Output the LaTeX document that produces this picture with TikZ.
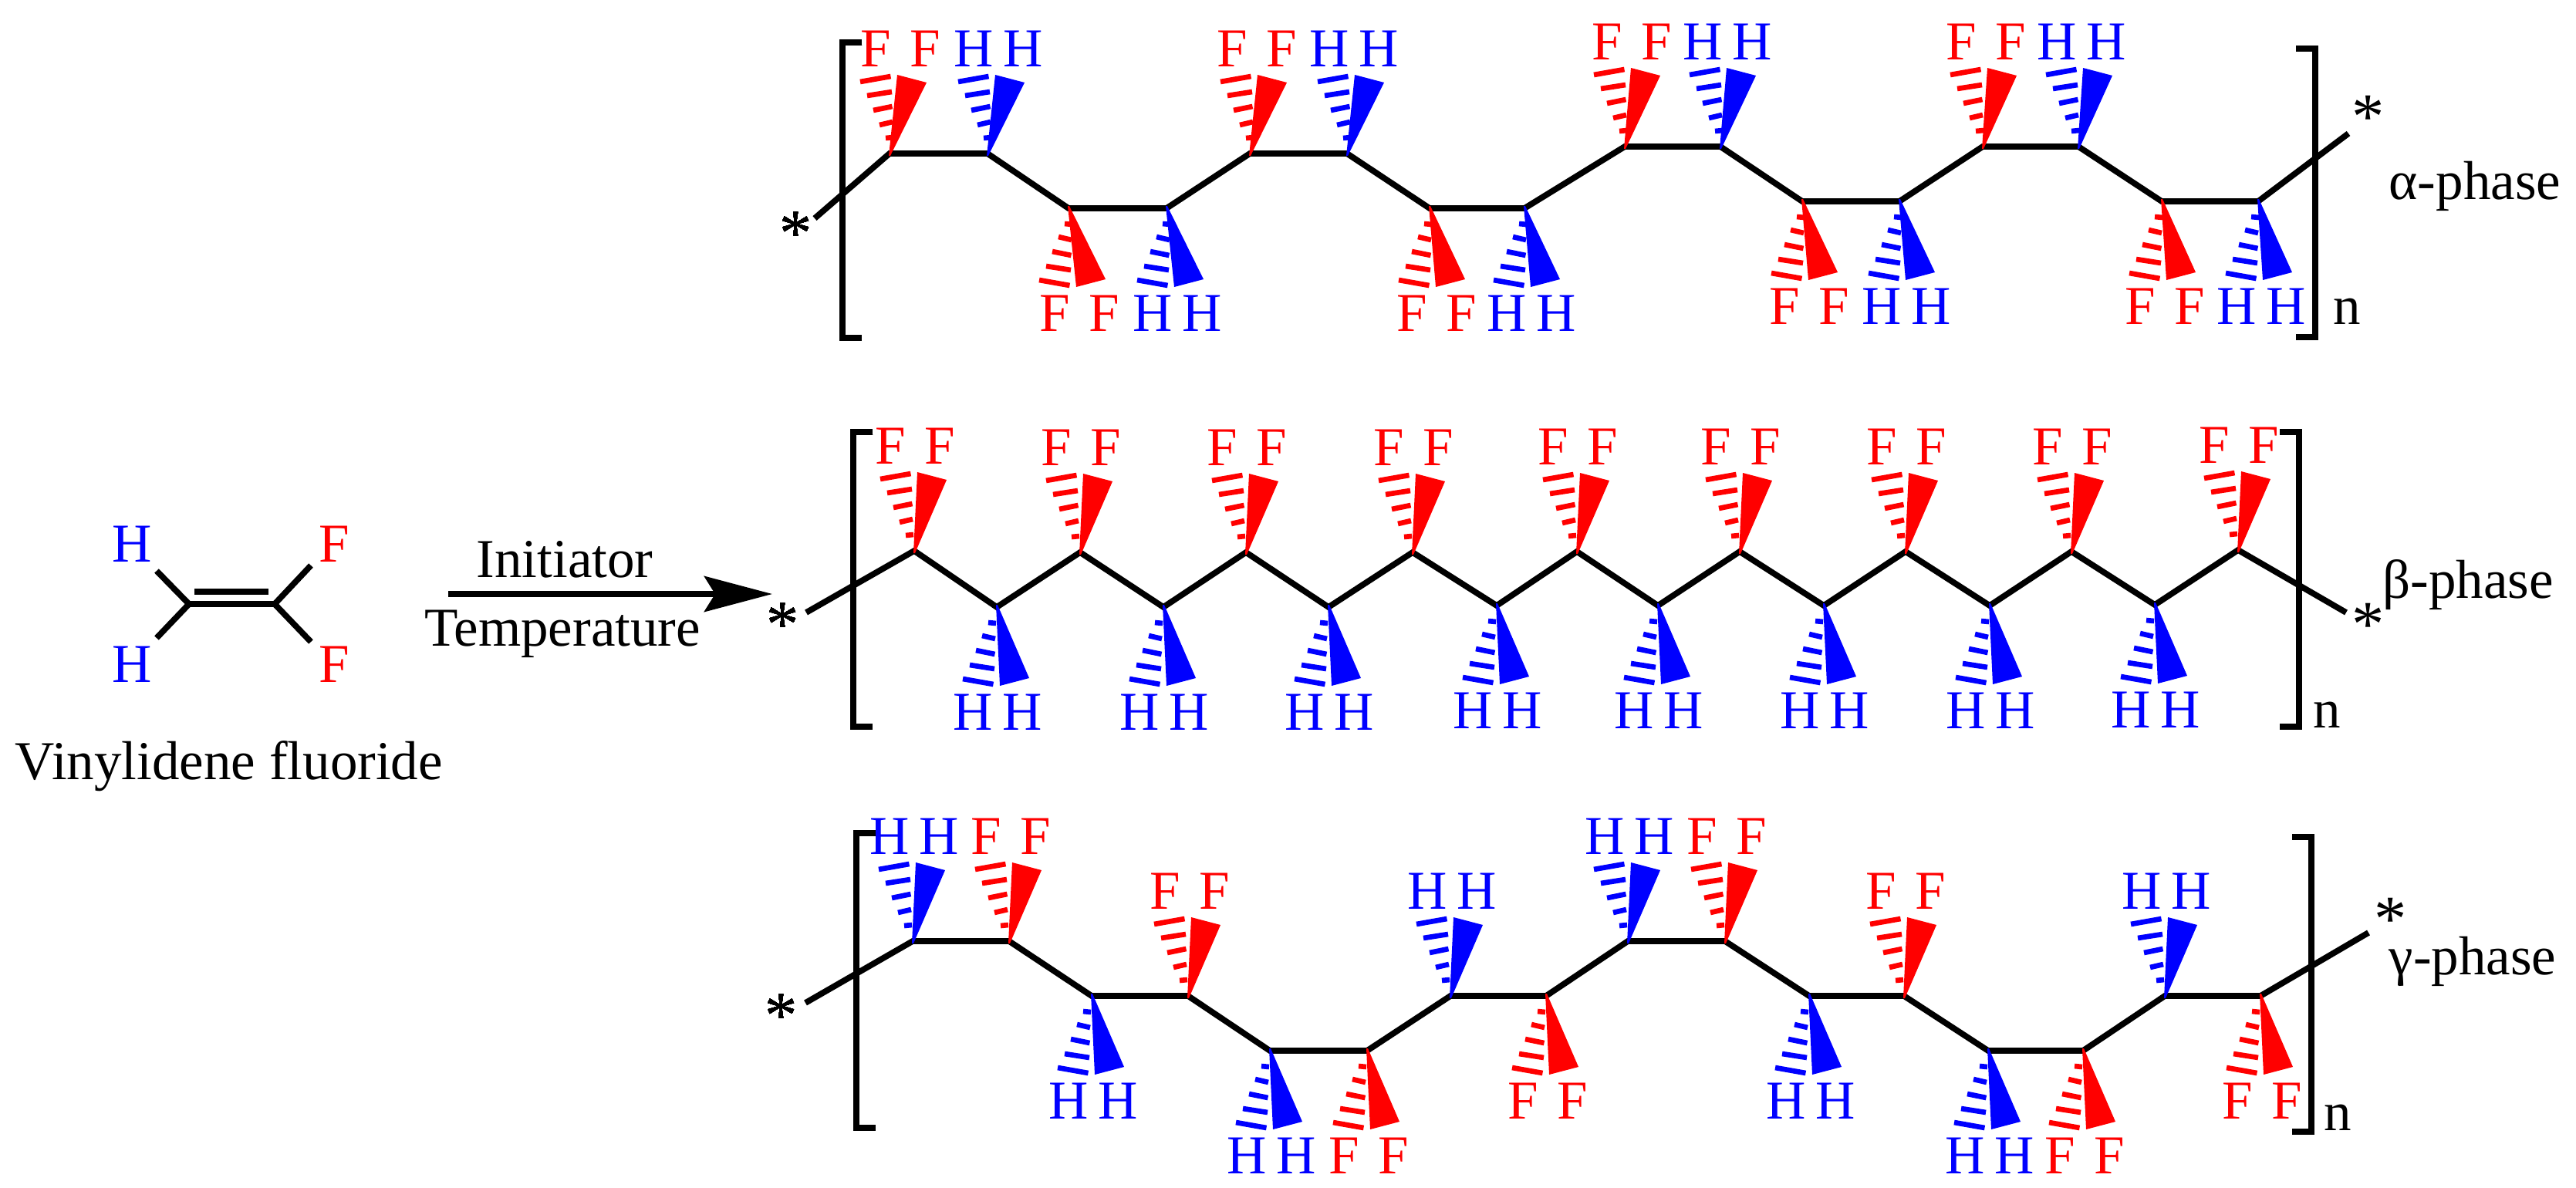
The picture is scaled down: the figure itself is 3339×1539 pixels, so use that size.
\documentclass[tikz,border=0pt]{standalone}
\usepackage{fontspec}
\setmainfont{Liberation Serif}
\usepackage{xcolor}
\usetikzlibrary{arrows.meta}

\colorlet{elemF}{red}
\colorlet{elemH}{blue}

\newcommand{\wedgepair}[6]{% atom name, direction, element, wedge shift, label shift
  \begin{scope}[shift={(#1)}, yscale=#2]
    \fill[elem#3] (-1,3) -- (4+#4,-102) -- (42+#4,-92) -- (1,3) -- cycle;
    \foreach \lx/\ly/\rx/\ry in {-11/-20/-1/-21, -19/-37/-2/-41, -27/-56/-2.5/-61, -35/-75/-3/-80, -44/-93/-4.5/-100}
      \draw[hashbar, elem#3] (\lx+#4,\ly) -- (\rx+#4,\ry);
    \node[atomlabel, text=elem#3] (#1l) at (-31+#5,-136) {#3};
    \node[atomlabel, text=elem#3] (#1r) at (33+#5,-136) {#3};
  \end{scope}
}

\newcommand{\polychain}[2]{% prefix, list of atoms
  \foreach \idx/\cx/\cy/\dirn/\elem/\wsh/\lsh in {#2}
    \coordinate (#1\idx) at (\cx,\cy);
  \draw[bond] (#1start) foreach \idx/\cx/\cy/\dirn/\elem/\wsh/\lsh in {#2} {-- (#1\idx)} -- (#1end);
  \foreach \idx/\cx/\cy/\dirn/\elem/\wsh/\lsh in {#2}
    \wedgepair{#1\idx}{\dirn}{\elem}{\wsh}{\lsh}{}
}

\newcommand{\squarebrackets}[6]{% left x, right x of the opening and closing bracket, top and bottom
  \draw[bond] (#1+25,#3) -- (#1,#3) -- (#1,#4) -- (#1+25,#4);
  \draw[bond] (#2-25,#5) -- (#2,#5) -- (#2,#6) -- (#2-25,#6);
}

\begin{document}
\begin{tikzpicture}[
    x=0.01cm, y=-0.01cm,
    bond/.style={line width=2.2pt, black},
    hashbar/.style={line width=1.9pt},
    atomlabel/.style={inner sep=0pt, font=\fontsize{20.2}{24}\selectfont},
    plain/.style={inner sep=0pt, anchor=base, font=\fontsize{20.2}{24}\selectfont},
    starlabel/.style={inner sep=0pt, anchor=base, font=\fontsize{24}{24}\selectfont},
    reaction/.style={line width=2.2pt, -{Stealth[length=0.88cm, width=0.46cm, inset=0.14cm]}}
]
\useasboundingbox (0,0) rectangle (3339,1539);

% monomer
\coordinate (vc1) at (245,783);
\coordinate (vc2) at (356,783);
\coordinate (vd1) at (252,767);
\coordinate (vd2) at (348,767);
\coordinate (vh1) at (203,740);
\coordinate (vh2) at (203,827);
\coordinate (vf1) at (403,733);
\coordinate (vf2) at (403,832);
\draw[bond] (vc1) -- (vc2);
\draw[bond] (vd1) -- (vd2);
\draw[bond] (vh1) -- (vc1) -- (vh2);
\draw[bond] (vf1) -- (vc2) -- (vf2);
\node[atomlabel, text=elemH] (hup) at (171,705) {H};
\node[atomlabel, text=elemH] (hdown) at (171,861) {H};
\node[atomlabel, text=elemF] (fup) at (433,705) {F};
\node[atomlabel, text=elemF] (fdown) at (433,861) {F};
\node[plain] (monomer) at (297,1010) {Vinylidene fluoride};

% reaction
\coordinate (rstart) at (581,770);
\coordinate (rend) at (1001,770);
\draw[reaction] (rstart) -- (rend);
\node[plain] (initiator) at (732,748) {Initiator};
\node[plain] (temperature) at (729,837) {Temperature};

% alpha
\coordinate (astart) at (1056,283);
\coordinate (aend) at (3044,173);
\polychain{a}{1/1153/199/1/F/6/13, 2/1280/199/1/H/6/13, 3/1385/270/-1/F/6/13, 4/1512/270/-1/H/6/13,
  5/1620/199/1/F/6/8, 6/1746/199/1/H/6/8, 7/1853/270/-1/F/4/8, 8/1976/270/-1/H/4/8,
  9/2106/190/1/F/4/8, 10/2230/190/1/H/4/8, 11/2336/261/-1/F/4/8, 12/2462/261/-1/H/4/8,
  13/2570/190/1/F/2/3, 14/2694/190/1/H/2/3, 15/2802/261/-1/F/2/3, 16/2927/261/-1/H/2/3}
\squarebrackets{1092}{3001}{55}{438}{63}{437}
\node[starlabel] (astar1) at (1032,330) {*};
\node[starlabel] (astar2) at (3070,179) {*};
\node[plain] (an) at (3042,420) {n};
\node[plain] (alabel) at (3208,258) {α-phase};

% beta
\coordinate (bstart) at (1045,794);
\coordinate (bend) at (3041,794);
\polychain{b}{1/1185/714/1/F/0/0, 2/1292/787/-1/H/0/0, 3/1400/716/1/F/0/0, 4/1508/787/-1/H/0/0,
  5/1615/716/1/F/0/0, 6/1722/787/-1/H/0/0, 7/1831/716/1/F/0/0, 8/1940/785/-1/H/0/0,
  9/2044/715/1/F/0/0, 10/2149/785/-1/H/0/0, 11/2255/715/1/F/0/0, 12/2364/785/-1/H/0/0,
  13/2470/715/1/F/0/0, 14/2579/785/-1/H/0/0, 15/2685/715/1/F/0/0, 16/2793/784/-1/H/0/0,
  17/2901/713/1/F/0/0}
\squarebrackets{1106}{2980}{560}{942}{560}{942}
\node[starlabel] (bstar1) at (1015,837) {*};
\node[starlabel] (bstar2) at (3070,837) {*};
\node[plain] (bn) at (3016,943) {n};
\node[plain] (blabel) at (3199,775) {β-phase};

% gamma
\coordinate (cstart) at (1044,1300);
\coordinate (cend) at (3070,1209);
\polychain{c}{1/1183/1220/1/H/0/1, 2/1308/1220/1/F/0/1, 3/1415/1291/-1/H/0/1, 4/1540/1291/1/F/0/1,
  5/1646/1362/-1/H/0/1, 6/1772/1362/-1/F/0/1, 7/1880/1291/1/H/0/1, 8/2004/1291/-1/F/0/1,
  9/2110/1220/1/H/0/1, 10/2236/1220/1/F/0/1, 11/2345/1291/-1/H/0/1, 12/2468/1291/1/F/0/1,
  13/2577/1362/-1/H/0/1, 14/2700/1362/-1/F/0/1, 15/2806/1291/1/H/0/1, 16/2930/1291/-1/F/0/1}
\squarebrackets{1110}{2996}{1080}{1462}{1085}{1467}
\node[starlabel] (cstar1) at (1013,1344) {*};
\node[starlabel] (cstar2) at (3099,1219) {*};
\node[plain] (cn) at (3030,1465) {n};
\node[plain] (clabel) at (3205,1263) {γ-phase};

\end{tikzpicture}
\end{document}
